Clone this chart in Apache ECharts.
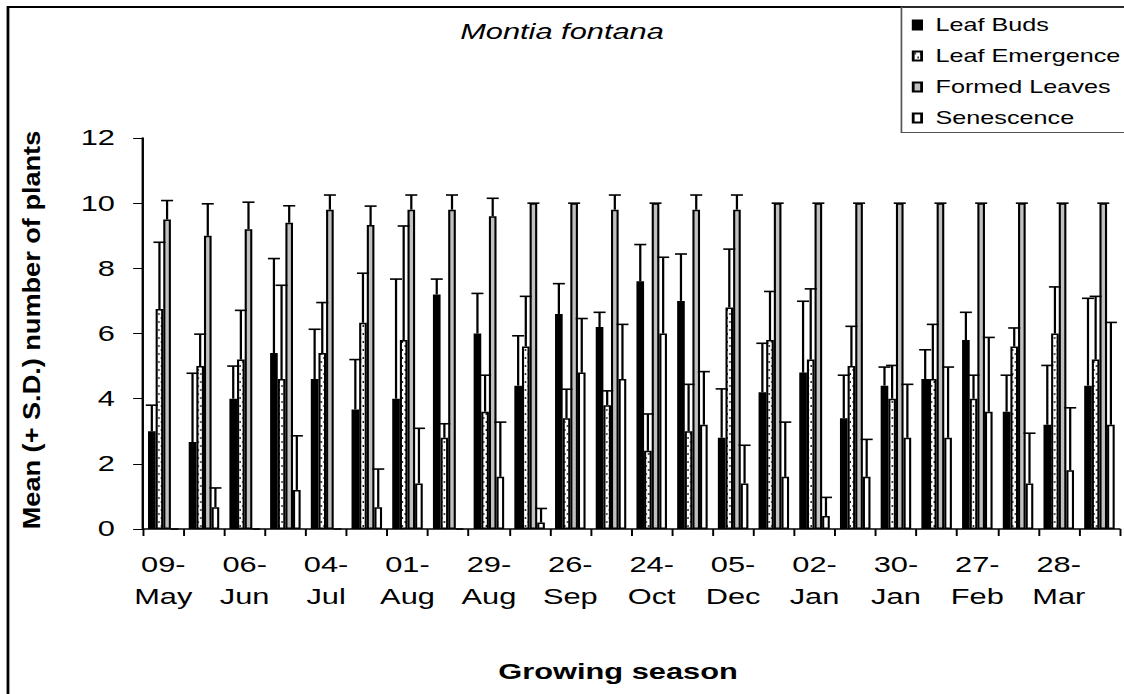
<!DOCTYPE html>
<html>
<head>
<meta charset="utf-8">
<script src="https://cdn.jsdelivr.net/npm/echarts@6/dist/echarts.min.js"></script>
<style>
html,body{margin:0;padding:0;background:#fff;overflow:hidden;width:1124px;height:694px;}
#main{width:803px;height:694px;transform:scaleX(1.39975);transform-origin:0 0;}
</style>
</head>
<body>
<div id="main"></div>
<script>
// ---- data ----
const categories = ['09-May','23-May','06-Jun','20-Jun','04-Jul','18-Jul','01-Aug','15-Aug',
  '29-Aug','12-Sep','26-Sep','10-Oct','24-Oct','14-Nov','05-Dec','19-Dec',
  '02-Jan','16-Jan','30-Jan','13-Feb','27-Feb','13-Mar','28-Mar','11-Apr'];
const seriesNames = ['Leaf Buds','Leaf Emergence','Formed Leaves','Senescence'];

const leafBuds      = [3.0, 2.67, 4.0, 5.4, 4.6, 3.67, 4.0, 7.2, 6.0, 4.4, 6.6, 6.2, 7.6, 7.0, 2.8, 4.2, 4.8, 3.4, 4.4, 4.6, 5.8, 3.6, 3.2, 4.4];
const leafBudsSD    = [0.8, 2.11, 1.0, 2.9, 1.53, 1.53, 3.67, 0.47, 1.23, 1.53, 0.93, 0.45, 1.13, 1.44, 1.5, 1.5, 2.19, 1.32, 0.57, 0.9, 0.85, 1.12, 1.82, 2.68];
const leafEmerg     = [6.75, 5.0, 5.2, 4.6, 5.4, 6.33, 5.8, 2.8, 3.6, 5.6, 3.4, 3.8, 2.4, 3.0, 6.8, 5.8, 5.2, 5.0, 4.0, 4.6, 4.0, 5.6, 6.0, 5.2];
const leafEmergSD   = [2.05, 0.98, 1.51, 2.88, 1.55, 1.52, 3.5, 0.43, 1.12, 1.54, 0.89, 0.44, 1.13, 1.44, 1.79, 1.49, 2.17, 1.22, 1.02, 1.68, 0.72, 0.57, 1.43, 1.94];
const formedLeaves  = [9.5, 9.0, 9.2, 9.4, 9.8, 9.33, 9.8, 9.8, 9.6, 10, 10, 9.8, 10, 9.8, 9.8, 10, 10, 10, 10, 10, 10, 10, 10, 10];
const formedSD      = [0.58, 0.98, 0.83, 0.52, 0.45, 0.58, 0.45, 0.45, 0.55, 0, 0, 0.45, 0, 0.45, 0.45, 0, 0, 0, 0, 0, 0, 0, 0, 0];
const senescence    = [0, 0.67, 0, 1.2, 0, 0.67, 1.4, 0, 1.6, 0.2, 4.8, 4.6, 6.0, 3.2, 1.4, 1.6, 0.4, 1.6, 2.8, 2.8, 3.6, 1.4, 1.8, 3.2];
const senescenceSD  = [0, 0.59, 0, 1.66, 0, 1.17, 1.69, 0, 1.68, 0.43, 1.66, 1.68, 2.34, 1.63, 1.17, 1.68, 0.57, 1.15, 1.64, 2.17, 2.28, 1.54, 1.92, 3.14];
const yTicks = [0, 2, 4, 6, 8, 10, 12];

const means = [leafBuds, leafEmerg, formedLeaves, senescence];
const sds = [leafBudsSD, leafEmergSD, formedSD, senescenceSD];

// ---- dotted pattern ----
const pc = document.createElement('canvas');
pc.width = 4; pc.height = 8;
const pctx = pc.getContext('2d');
pctx.fillStyle = '#fff'; pctx.fillRect(0, 0, 4, 8);
pctx.fillStyle = '#111';
pctx.fillRect(1, 1, 1, 2);
pctx.fillRect(3, 5, 1, 2);
const dotted = { image: pc, repeat: 'repeat', imageWidth: 4, imageHeight: 8 };

const FONT = "'Liberation Sans', Arial, sans-serif";
const fills = ['#000000', dotted, '#c0c0c0', '#ffffff'];

const errData = [];
means.forEach((arr, s) => {
  arr.forEach((m, i) => {
    if (m > 0 || sds[s][i] > 0) errData.push([i, m, +(m + sds[s][i]).toFixed(3), s]);
  });
});

const barSeries = seriesNames.map((name, s) => ({
  name, type: 'bar', data: means[s],
  barGap: '0%', barCategoryGap: '25%',
  itemStyle: { color: fills[s], borderColor: '#000', borderWidth: 1.5 },
  emphasis: { disabled: true },
  animation: false
}));

const chart = echarts.init(document.getElementById('main'), null, { renderer: 'svg' });
chart.setOption({
  animation: false,
  backgroundColor: '#fff',
  title: {
    text: 'Montia fontana', left: 'center', top: 21, padding: 0,
    textStyle: { fontFamily: FONT, fontSize: 22, fontStyle: 'italic', fontWeight: 'normal', color: '#000' }
  },
  legend: {
    orient: 'vertical', left: 651.4, top: 16, padding: 0, itemWidth: 6, itemHeight: 9, itemGap: 13,
    icon: 'rect', selectedMode: false,
    textStyle: { fontFamily: FONT, fontSize: 18, color: '#000', lineHeight: 18, padding: [0, 0, 0, 5] },
    data: seriesNames
  },
  grid: { left: 102.1, right: 3, top: 138, bottom: 165, containLabel: false },
  xAxis: {
    type: 'category', data: categories, boundaryGap: true,
    name: 'Growing season', nameLocation: 'middle', nameGap: 132,
    nameTextStyle: { fontFamily: FONT, fontSize: 22, fontWeight: 'bold', color: '#000', padding: [0, 19, 0, 0] },
    axisLine: { lineStyle: { color: '#000', width: 1.5 } },
    axisTick: { show: true, interval: 0, length: 7, lineStyle: { color: '#000', width: 1.4 } },
    axisLabel: {
      interval: 1, margin: 20, fontFamily: FONT, fontSize: 22, color: '#000', lineHeight: 31.5,
      formatter: v => v.replace('-', '-\n')
    },
    splitLine: { show: false }
  },
  yAxis: {
    type: 'value', min: yTicks[0], max: yTicks[yTicks.length - 1], interval: yTicks[1] - yTicks[0],
    axisLine: { show: true, lineStyle: { color: '#000', width: 1.7 } },
    axisTick: { show: true, length: 7, lineStyle: { color: '#000', width: 1 } },
    axisLabel: { margin: 20, fontFamily: FONT, fontSize: 22, color: '#000' },
    splitLine: { show: false }
  },
  graphic: [
    { type: 'rect', silent: true, z: 100, shape: { x: 5.7, y: 7, width: 1000, height: 900 },
      style: { fill: 'none', stroke: '#000', lineWidth: 2 } },
    { type: 'rect', silent: true, z: 100, shape: { x: 644, y: 7, width: 400, height: 125.5 },
      style: { fill: 'none', stroke: '#555', lineWidth: 1.2 } },
    { type: 'text', silent: true, z: 100, x: 22.9, y: 330, rotation: Math.PI / 2, scaleX: 1.13, scaleY: 1 / 1.4,
      style: { text: 'Mean (+ S.D.) number of plants', fontFamily: FONT, fontSize: 24, fontWeight: 'bold',
        fill: '#000', align: 'center', verticalAlign: 'middle', textAlign: 'center', textVerticalAlign: 'middle' } }
  ],
  series: barSeries.concat([{
    type: 'custom', name: 'err', data: errData, z: 5, silent: true,
    encode: { x: 0, y: [1, 2] },
    renderItem: function (params, api) {
      const i = api.value(0), m = api.value(1), t = api.value(2), s = api.value(3);
      const band = api.size([1, 0])[0];
      const bw = band * 0.75 / 4;
      const base = api.coord([i, m]);
      const top = api.coord([i, t]);
      const cx = base[0] + (s - 1.5) * bw;
      const half = 4.3;
      const st = { stroke: '#000', lineWidth: 1.6 };
      return { type: 'group', children: [
        { type: 'line', shape: { x1: cx, y1: base[1], x2: cx, y2: top[1] }, style: st },
        { type: 'line', shape: { x1: cx - half, y1: top[1], x2: cx + half, y2: top[1] }, style: st }
      ]};
    }
  }])
});
</script>
</body>
</html>
